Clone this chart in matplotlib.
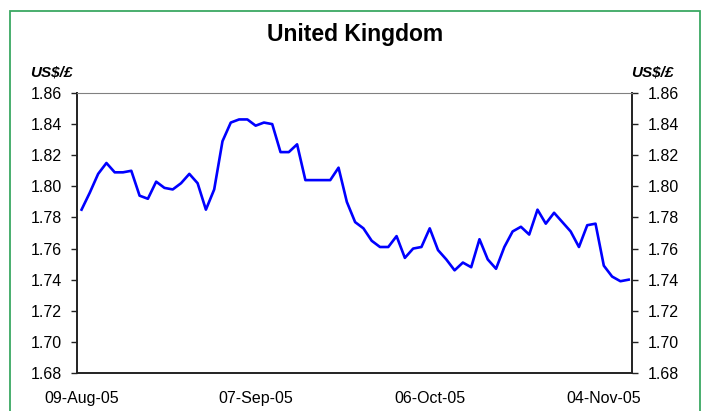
import numpy as np
import matplotlib
matplotlib.use("Agg")
import matplotlib.pyplot as plt
from matplotlib.patches import Rectangle

plt.rcParams['font.family'] = ['Liberation Sans', 'DejaVu Sans']

# US$/£ daily rate, business days from 09-Aug-05
usd_gbp = [1.785, 1.796, 1.808, 1.815, 1.809, 1.809, 1.810, 1.794, 1.792, 1.803,
           1.799, 1.798, 1.802, 1.808, 1.802, 1.785, 1.798, 1.829, 1.841, 1.843,
           1.843, 1.839, 1.841, 1.840, 1.822, 1.822, 1.827, 1.804, 1.804, 1.804,
           1.804, 1.812, 1.790, 1.777, 1.773, 1.765, 1.761, 1.761, 1.768, 1.754,
           1.760, 1.761, 1.773, 1.759, 1.753, 1.746, 1.751, 1.748, 1.766, 1.753,
           1.747, 1.761, 1.771, 1.774, 1.769, 1.785, 1.776, 1.783, 1.777, 1.771,
           1.761, 1.775, 1.776, 1.749, 1.742, 1.739, 1.740]
date_labels = ["09-Aug-05", "07-Sep-05", "06-Oct-05", "04-Nov-05"]
date_label_idx = [0, 21, 42, 63]
y_ticks = [1.68, 1.70, 1.72, 1.74, 1.76, 1.78, 1.80, 1.82, 1.84, 1.86]

fig = plt.figure(figsize=(7.07, 4.11), dpi=100)
fig.patch.set_facecolor("white")

# green frame around the chart
fig.patches.append(Rectangle((10 / 707, -0.05), 690 / 707, 1.05 - 11 / 411,
                             transform=fig.transFigure, fill=False,
                             edgecolor="#3aa862", linewidth=1.3))

ax = fig.add_axes([77 / 707, 1 - 373 / 411, 555 / 707, 280 / 411])
x = np.arange(len(usd_gbp))
ax.plot(x, usd_gbp, color="#0000ff", linewidth=1.9)

ax.set_xlim(-0.55, 66.4)
ax.set_ylim(1.68, 1.86)
ax.set_yticks(y_ticks)
ax.set_yticklabels([f"{v:.2f}" for v in y_ticks])
ax.set_xticks(date_label_idx)
ax.set_xticklabels(date_labels)

ax.tick_params(axis="y", direction="out", length=4, width=1, labelsize=11.5,
               pad=7, right=True, labelright=True, color="#222222")
ax.tick_params(axis="x", length=0, labelsize=11.5, pad=13)

for side in ["left", "right", "bottom"]:
    ax.spines[side].set_color("#222222")
    ax.spines[side].set_linewidth(1.4)
ax.spines["top"].set_color("#808080")
ax.spines["top"].set_linewidth(0.8)

fig.text(355 / 707, 1 - 35 / 411, "United Kingdom", ha="center", va="center",
         fontsize=16.5, fontweight="bold")
fig.text(51 / 707, 1 - 72 / 411, "US$/£", ha="center", va="center",
         fontsize=11, fontweight="bold", fontstyle="italic")
fig.text(652 / 707, 1 - 72 / 411, "US$/£", ha="center", va="center",
         fontsize=11, fontweight="bold", fontstyle="italic")

fig.savefig("out.png", dpi=100)
